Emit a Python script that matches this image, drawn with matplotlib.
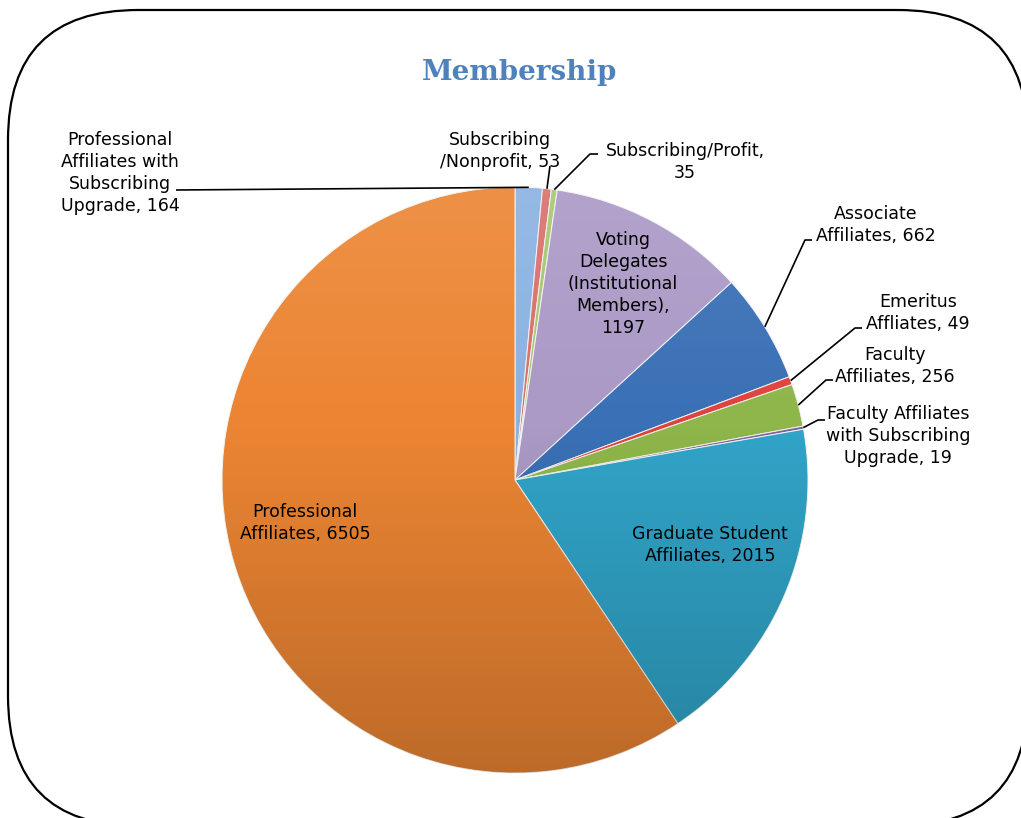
import numpy as np
import matplotlib
matplotlib.use("Agg")
import matplotlib.pyplot as plt
from matplotlib.patches import FancyBboxPatch, Circle

# ---- data ----
labels = [
    "Professional\nAffiliates with\nSubscribing\nUpgrade, 164",
    "Subscribing\n/Nonprofit, 53",
    "Subscribing/Profit,\n35",
    "Voting\nDelegates\n(Institutional\nMembers),\n1197",
    "Associate\nAffiliates, 662",
    "Emeritus\nAffliates, 49",
    "Faculty\nAffiliates, 256",
    "Faculty Affiliates\nwith Subscribing\nUpgrade, 19",
    "Graduate Student\nAffiliates, 2015",
    "Professional\nAffiliates, 6505",
]
values = [164, 53, 35, 1197, 662, 49, 256, 19, 2015, 6505]
colors = ["#8ab2e2", "#d9706b", "#a6c671", "#ab99c6", "#3a70b6",
          "#e0433d", "#8fb64a", "#7d62a0", "#31a4c8", "#ec8533"]
title = "Membership"

# ---- layout (pixel coordinates, y measured from top) ----
W, H = 1021, 818
cx, cy, R = 515, 480, 293
# label centres
label_pos = [(120, 173), (500, 151), (685, 162), (623, 284), (876, 225),
             (918, 313), (895, 366), (898, 436), (710, 545), (305, 523)]
# leader elbows (None = label inside slice)
leaders = [[(176, 190)], [(550, 166)], [(598, 154), (590, 154)], None,
           [(812, 240), (805, 240)], [(862, 328), (855, 328)],
           [(833, 380), (826, 380)], [(825, 420), (818, 420)], None, None]

def Y(py):
    return H - py

fig = plt.figure(figsize=(W / 100, H / 100), dpi=100)
ax = fig.add_axes([0, 0, 1, 1])

# rounded border
box = FancyBboxPatch((8, Y(826)), 1028 - 8, 826 - 10,
                     boxstyle="round,pad=0,rounding_size=130",
                     facecolor="white", edgecolor="black", linewidth=1.6, zorder=0)
ax.add_patch(box)

wedges, _ = ax.pie(values, colors=colors, startangle=90, counterclock=False,
                   center=(cx, Y(cy)), radius=R,
                   wedgeprops=dict(edgecolor="#f4f4f4", linewidth=0.7))
for w in wedges:
    w.set_zorder(2)

# vertical shading overlay (lighter top, darker bottom)
n = 256
grad = np.zeros((n, 1, 4))
t = np.linspace(0, 1, n)
grad[:, 0, :3] = np.where(t[:, None] < 0.4, 1.0, 0.0)
grad[:, 0, 3] = np.where(t < 0.4, 0.10 * (1 - t / 0.4), 0.20 * (t - 0.4) / 0.6)
im = ax.imshow(grad, extent=[cx - R, cx + R, Y(cy) - R, Y(cy) + R],
               origin="upper", aspect="auto", zorder=3, interpolation="bilinear")
clip = Circle((cx, Y(cy)), R, transform=ax.transData)
im.set_clip_path(clip)

# labels and leader lines
for i, (lab, w) in enumerate(zip(labels, wedges)):
    lx, ly = label_pos[i]
    ax.text(lx, Y(ly), lab, ha="center", va="center", multialignment="center",
            fontsize=12.5, family="DejaVu Sans", color="#000000",
            linespacing=1.27, zorder=5)
    if leaders[i] is not None:
        mid = np.deg2rad((w.theta1 + w.theta2) / 2)
        ax_x = cx + R * np.cos(mid)
        ax_y = Y(cy) + R * np.sin(mid)
        pts = [(px, Y(py)) for px, py in leaders[i]] + [(ax_x, ax_y)]
        xs, ys = zip(*pts)
        ax.plot(xs, ys, color="black", linewidth=1.2, zorder=4,
                solid_capstyle="butt")

ax.text(520, Y(72), title, ha="center", va="center", fontsize=20,
        family="DejaVu Serif", fontweight="bold", color="#4f81bd", zorder=5)

ax.set_xlim(0, W)
ax.set_ylim(0, H)
ax.set_aspect("auto")
ax.set_axis_off()
fig.savefig("out.png", dpi=100)
